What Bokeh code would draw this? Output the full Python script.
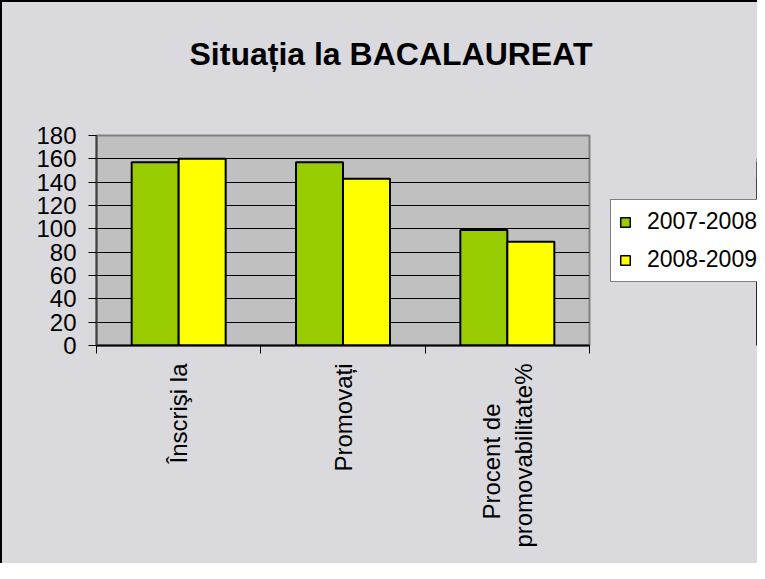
import math
from bokeh.plotting import figure
from bokeh.layouts import row
from bokeh.models import ColumnDataSource, FixedTicker, Legend, LegendItem, Range1d, Title
from bokeh.transform import dodge
from bokeh.embed import file_html
from bokeh.resources import INLINE

# ---- data ----
categories = ["Înscrişi la", "Promovați", "Procent de\u00a0\u00a0\u00a0\u00a0\u00a0\u00a0\npromovabilitate%"]
series_names = ["2007-2008", "2008-2009"]
values_2007_2008 = [157, 157, 99]
values_2008_2009 = [160, 143, 89]
y_ticks = [0, 20, 40, 60, 80, 100, 120, 140, 160, 180]
title_text = "Situația la BACALAUREAT"

# ---- build ----
positions = [i + 0.5 for i in range(len(categories))]
boundaries = [float(i) for i in range(len(categories) + 1)]
source = ColumnDataSource(dict(pos=positions, a=values_2007_2008, b=values_2008_2009))

FONT = "Liberation Sans"
BG = "#dadade"
GREEN = "#99cc00"
YELLOW = "#ffff00"

p = figure(
    width=597, height=561,
    x_range=Range1d(0, len(categories)), y_range=Range1d(0, 180),
    output_backend="svg", toolbar_location=None,
    min_border_left=94, min_border_top=133, min_border_right=10, min_border_bottom=218,
    background_fill_color="#c0c0c0", border_fill_color=BG,
    outline_line_color="#808080", outline_line_width=2,
)

bw = 0.286
r1 = p.vbar(x=dodge("pos", -bw / 2, range=p.x_range), top="a", width=bw, source=source,
            fill_color=GREEN, line_color="black", line_width=2)
r2 = p.vbar(x=dodge("pos", bw / 2, range=p.x_range), top="b", width=bw, source=source,
            fill_color=YELLOW, line_color="black", line_width=2)

# title (second empty line lifts it within the top panel)
p.title = Title(text=title_text + "\n", align="left", text_font=FONT, text_font_size="32px",
                text_font_style="bold", text_color="black", offset=93, standoff=56)

# x axis
xa = p.xaxis[0]
xa.ticker = FixedTicker(ticks=positions, minor_ticks=boundaries)
xa.major_label_overrides = {pos: lab for pos, lab in zip(positions, categories)}
xa.major_tick_out = 0
xa.major_tick_in = 0
xa.minor_tick_out = 8
xa.minor_tick_in = 0
xa.minor_tick_line_color = "black"
xa.major_label_orientation = math.pi / 2
xa.major_label_standoff = 10
xa.major_label_text_font = FONT
xa.major_label_text_font_size = "24px"
xa.major_label_text_color = "black"
xa.axis_line_color = "black"
xa.axis_line_width = 2

# y axis
ya = p.yaxis[0]
ya.ticker = FixedTicker(ticks=y_ticks)
ya.major_tick_out = 8
ya.major_tick_in = 0
ya.minor_tick_line_color = None
ya.major_tick_line_color = "black"
ya.major_label_standoff = 12
ya.major_label_text_font = FONT
ya.major_label_text_font_size = "24px"
ya.major_label_text_color = "black"
ya.axis_line_color = "#404040"
ya.axis_line_width = 2

p.xgrid.visible = False
p.ygrid.ticker = FixedTicker(ticks=y_ticks)
p.ygrid.grid_line_color = "black"
p.ygrid.grid_line_width = 1

# legend panel: a second figure to the right, same background; it shows the same
# series renderers, but its x range lies outside the data so only the legend is seen
p2 = figure(
    width=158, height=561, x_range=Range1d(-20, -10), y_range=Range1d(0, 180),
    output_backend="svg", toolbar_location=None,
    x_axis_location=None, y_axis_location=None,
    min_border=0, min_border_left=0, min_border_right=0, min_border_top=0, min_border_bottom=0,
    background_fill_color=None, border_fill_color=BG, outline_line_color=None,
)
p2.grid.visible = False
d1 = p2.vbar(x="pos", top="a", width=bw, source=source, fill_color=GREEN, line_color="black", line_width=1.5)
d2 = p2.vbar(x="pos", top="b", width=bw, source=source, fill_color=YELLOW, line_color="black", line_width=1.5)

legend = Legend(
    items=[LegendItem(label=series_names[0], renderers=[d1]),
           LegendItem(label=series_names[1], renderers=[d2])],
    location=(11, 63),
    label_text_font=FONT, label_text_font_size="23px", label_text_color="black",
    glyph_width=12, glyph_height=12, label_standoff=16, padding=8, spacing=11,
    border_line_color="black", border_line_width=1.5,
    background_fill_color="white", background_fill_alpha=1, margin=0,
)
p2.add_layout(legend)

layout = row(p, p2, spacing=0,
             styles={"border-left": "2px solid black", "border-top": "2px solid black",
                     "background-color": BG})

open("out.html", "w").write(file_html(layout, INLINE))
